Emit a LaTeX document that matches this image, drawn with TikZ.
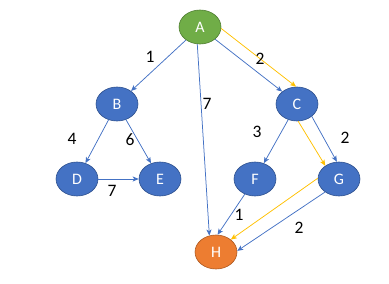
\documentclass[tikz,border=0pt]{standalone}
\usepackage{fontspec}
\setmainfont{Carlito}
\usepackage{tikz}
\usetikzlibrary{shapes.geometric,arrows.meta}
\definecolor{nodeblue}{HTML}{4472C4}
\definecolor{nodeline}{HTML}{2F528F}
\definecolor{nodegreen}{HTML}{70AD47}
\definecolor{greenline}{HTML}{507E32}
\definecolor{nodeorange}{HTML}{ED7D31}
\definecolor{orangeline}{HTML}{AE5A21}
\definecolor{pathyellow}{HTML}{FFC000}

\tikzset{
  vertex/.style = {
    ellipse,
    draw         = nodeline,
    fill         = nodeblue,
    line width   = 0.6pt,
    minimum width  = 42pt,
    minimum height = 34pt,
    inner sep    = 0pt,
    text         = white,
    font         = \fontsize{16}{18}\selectfont
  },
  startvertex/.style = {vertex, fill = nodegreen, draw = greenline},
  endvertex/.style   = {vertex, fill = nodeorange, draw = orangeline},
  edge/.style = {
    draw       = nodeblue,
    line width = 0.75pt,
    -{Stealth[length=6pt,width=5pt,inset=1.5pt]}
  },
  shortest/.style = {edge, draw = pathyellow},
  weight/.style   = {font = \fontsize{17.5}{20}\selectfont, inner sep = 0pt}
}

\begin{document}
\begin{tikzpicture}[x=1pt, y=-1pt]
  \useasboundingbox (0,0) rectangle (389,284);

  % vertices
  \node[startvertex] (A) at (200,27)  {A};
  \node[vertex]      (B) at (117,104) {B};
  \node[vertex]      (C) at (297,104) {C};
  \node[vertex]      (D) at (77,179)  {D};
  \node[vertex]      (E) at (160,179) {E};
  \node[vertex]      (F) at (255,179) {F};
  \node[vertex]      (G) at (339,179) {G};
  \node[endvertex]   (H) at (216,252) {H};

  % edges
  \draw[edge] (A) -- (B);
  \draw[edge] (A.-39) -- (C.140);
  \draw[edge] (A.-99) -- (H.112);
  \draw[edge] (B) -- (D);
  \draw[edge] (B) -- (E);
  \draw[edge] (D) -- (E);
  \draw[edge] (C) -- (F);
  \draw[edge] (C.-40) -- (G.97);
  \draw[edge] (F) -- (H.85);
  \draw[edge] (G.-137) -- (H.3);

  % shortest path
  \draw[shortest] (A.-4) -- (C.93);
  \draw[shortest] (C.-86) -- (G.136);
  \draw[shortest] (G.178) -- (H.40);

  % weights
  \node[weight] (wAB) at (150,57)  {1};
  \node[weight] (wAC) at (260,59)  {2};
  \node[weight] (wAH) at (207,104) {7};
  \node[weight] (wBD) at (72,139)  {4};
  \node[weight] (wBE) at (130,140) {6};
  \node[weight] (wDE) at (112,191) {7};
  \node[weight] (wCF) at (257,132) {3};
  \node[weight] (wCG) at (345,138) {2};
  \node[weight] (wFH) at (239,215) {1};
  \node[weight] (wGH) at (299,228) {2};
\end{tikzpicture}
\end{document}
